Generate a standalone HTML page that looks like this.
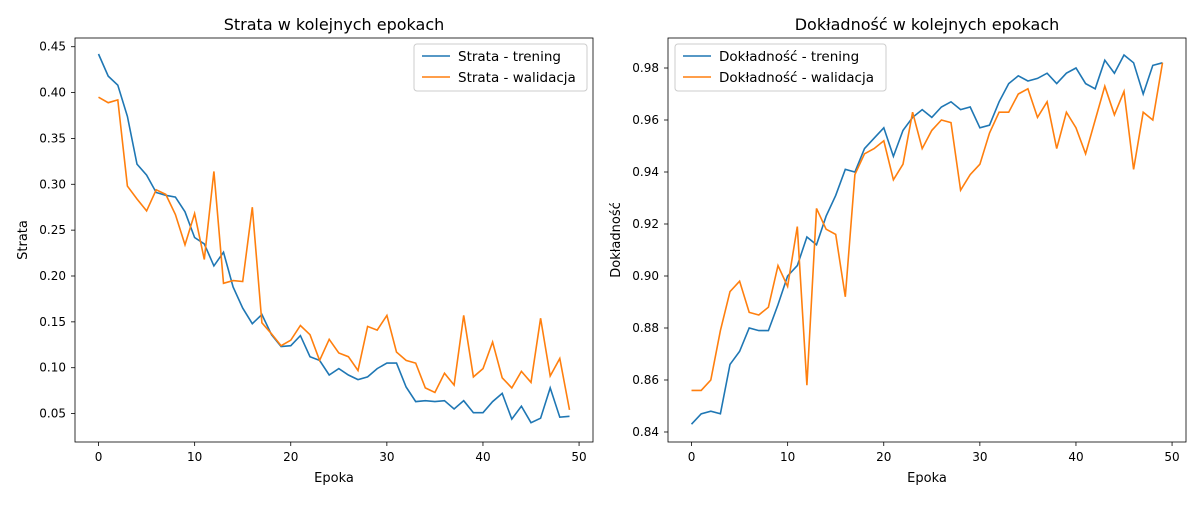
<!DOCTYPE html>
<html><head><meta charset="utf-8"><style>
body{margin:0;background:#fff;font-family:"Liberation Sans","DejaVu Sans",sans-serif}
svg text{font-family:"DejaVu Sans","Liberation Sans",sans-serif;fill:#000}
</style></head><body>
<svg id="c" width="1200" height="500"></svg>
<script>
const epochs=[...Array(50).keys()];
const lossTrain=[0.442,0.418,0.408,0.374,0.322,0.310,0.291,0.288,0.286,0.270,0.242,0.235,0.211,0.226,0.188,0.165,0.148,0.158,0.136,0.123,0.124,0.135,0.112,0.108,0.092,0.099,0.092,0.087,0.090,0.099,0.105,0.105,0.079,0.063,0.064,0.063,0.064,0.055,0.064,0.051,0.051,0.063,0.072,0.044,0.058,0.040,0.045,0.078,0.046,0.047];
const lossVal=[0.395,0.389,0.392,0.298,0.284,0.271,0.294,0.289,0.267,0.234,0.268,0.218,0.314,0.192,0.195,0.194,0.275,0.149,0.137,0.124,0.130,0.146,0.136,0.108,0.131,0.116,0.112,0.097,0.145,0.141,0.157,0.117,0.108,0.105,0.078,0.073,0.094,0.081,0.157,0.090,0.099,0.128,0.089,0.078,0.096,0.084,0.154,0.091,0.110,0.054];
const accTrain=[0.843,0.847,0.848,0.847,0.866,0.871,0.880,0.879,0.879,0.889,0.900,0.904,0.915,0.912,0.923,0.931,0.941,0.940,0.949,0.953,0.957,0.946,0.956,0.961,0.964,0.961,0.965,0.967,0.964,0.965,0.957,0.958,0.967,0.974,0.977,0.975,0.976,0.978,0.974,0.978,0.980,0.974,0.972,0.983,0.978,0.985,0.982,0.970,0.981,0.982];
const accVal=[0.856,0.856,0.860,0.879,0.894,0.898,0.886,0.885,0.888,0.904,0.896,0.919,0.858,0.926,0.918,0.916,0.892,0.939,0.947,0.949,0.952,0.937,0.943,0.963,0.949,0.956,0.960,0.959,0.933,0.939,0.943,0.955,0.963,0.963,0.970,0.972,0.961,0.967,0.949,0.963,0.957,0.947,0.960,0.973,0.962,0.971,0.941,0.963,0.960,0.982];
const xTicks=[0,10,20,30,40,50];
const lossTicks=[0.05,0.10,0.15,0.20,0.25,0.30,0.35,0.40,0.45];
const accTicks=[0.84,0.86,0.88,0.90,0.92,0.94,0.96,0.98];
const NS="http://www.w3.org/2000/svg";
const svg=document.getElementById('c');
function el(t,a,p){const e=document.createElementNS(NS,t);for(const k in a)e.setAttribute(k,a[k]);(p||svg).appendChild(e);return e;}
function panel(o){
  const g=el('g',{});
  
  
  const X=v=>o.x0+(v-(-2.45))/(51.45-(-2.45))*(o.x1-o.x0);
  const Y=v=>o.y1-(v-o.ymin)/(o.ymax-o.ymin)*(o.y1-o.y0);
  xTicks.forEach(t=>{const x=X(t);el('line',{x1:x,x2:x,y1:o.y1,y2:o.y1+4,stroke:'#000','stroke-width':0.8},g);
    const tx=el('text',{x:x,y:o.y1+19,'font-size':12,'text-anchor':'middle'},g);tx.textContent=t;
    
    });
  o.yt.forEach(t=>{const y=Y(t);el('line',{x1:o.x0-4,x2:o.x0,y1:y,y2:y,stroke:'#000','stroke-width':0.8},g);
    const tx=el('text',{x:o.x0-9,y:y+4,'font-size':12,'text-anchor':'end'},g);tx.textContent=t.toFixed(2);
    
    });
  [[o.s1,'#1f77b4','train'],[o.s2,'#ff7f0e','val']].forEach(([s,c,n])=>{
    const p=el('path',{d:s.map((v,i)=>(i?'L':'M')+X(epochs[i]).toFixed(1)+','+Y(v).toFixed(1)).join(''),fill:'none',stroke:c,'stroke-width':1.6},g);
    
    });
  el('rect',{x:o.x0,y:o.y0,width:o.x1-o.x0,height:o.y1-o.y0,fill:'none',stroke:'#000','stroke-width':0.8},g);
  const t=el('text',{x:(o.x0+o.x1)/2,y:30,'font-size':16,'text-anchor':'middle'},g);t.textContent=o.title;
  
  
  const xl=el('text',{x:(o.x0+o.x1)/2,y:482,'font-size':13,'text-anchor':'middle'},g);xl.textContent='Epoka';
  
  
  const yx=o.x0-48,yy=(o.y0+o.y1)/2;
  const yl=el('text',{x:yx,y:yy,'font-size':13,'text-anchor':'middle',transform:`rotate(-90 ${yx} ${yy})`},g);yl.textContent=o.ylab;
  
  
  const lg=el('g',{},g);
  
  
  el('rect',{x:o.lx,y:44,width:o.lw,height:47,rx:3,fill:'#fff',stroke:'#ccc','stroke-width':1},lg);
  [[o.l1,'#1f77b4'],[o.l2,'#ff7f0e']].forEach(([l,c],i)=>{const y=56+i*21;
    el('line',{x1:o.lx+8,x2:o.lx+36,y1:y,y2:y,stroke:c,'stroke-width':1.6},lg);
    const tx=el('text',{x:o.lx+44,y:y+5,'font-size':13.5},lg);tx.textContent=l;
    
    });
}
panel({name:'loss-panel',x0:75,x1:593,y0:38,y1:442,ymin:0.0190,ymax:0.4595,yt:lossTicks,s1:lossTrain,s2:lossVal,title:'Strata w kolejnych epokach',ylab:'Strata',lx:414,lw:173,l1:'Strata - trening',l2:'Strata - walidacja'});
panel({name:'accuracy-panel',x0:668,x1:1186,y0:38,y1:442,ymin:0.83615,ymax:0.99154,yt:accTicks,s1:accTrain,s2:accVal,title:'Dokładność w kolejnych epokach',ylab:'Dokładność',lx:675,lw:211,l1:'Dokładność - trening',l2:'Dokładność - walidacja'});
</script>
</body></html>
